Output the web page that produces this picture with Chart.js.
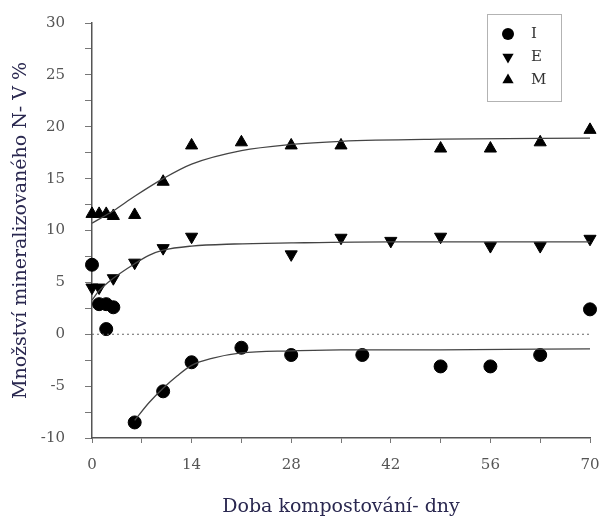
<!DOCTYPE html>
<html>
<head>
<meta charset="utf-8">
<script src="https://cdn.jsdelivr.net/npm/chart.js@4"></script>
<style>
  html, body { margin: 0; padding: 0; background: #fff; }
  #wrap { width: 606px; height: 522px; }
</style>
</head>
<body>
<div id="wrap"><canvas id="chart"></canvas></div>
<script>
// Measured points (day, value)
const iDays = [0, 1, 2, 2, 3, 6, 10, 14, 21, 28, 38, 49, 56, 63, 70];
const iVals = [6.7, 2.9, 2.9, 0.5, 2.6, -8.5, -5.5, -2.7, -1.3, -2.0, -2.0, -3.1, -3.1, -2.0, 2.4];

const eDays = [0, 1, 3, 6, 10, 14, 28, 35, 42, 49, 56, 63, 70];
const eVals = [4.5, 4.5, 5.4, 6.9, 8.3, 9.4, 7.7, 9.3, 9.0, 9.4, 8.5, 8.5, 9.2];

const mDays = [0, 1, 2, 3, 6, 10, 14, 21, 28, 35, 49, 56, 63, 70];
const mVals = [11.6, 11.6, 11.6, 11.4, 11.5, 14.7, 18.2, 18.5, 18.2, 18.2, 17.9, 17.9, 18.5, 19.7];

// Fitted curves
const iFitDays = [6, 8, 10, 12, 14, 17, 21, 28, 35, 49, 70];
const iFitVals = [-8.3, -6.6, -5.2, -4.0, -3.0, -2.3, -1.8, -1.6, -1.5, -1.5, -1.4];

const eFitDays = [0, 1, 3, 6, 8, 10, 14, 20, 28, 42, 70];
const eFitVals = [3.3, 4.2, 5.4, 6.8, 7.6, 8.1, 8.5, 8.7, 8.8, 8.9, 8.9];

const mFitDays = [0, 3, 6, 10, 14, 21, 28, 35, 49, 70];
const mFitVals = [10.7, 11.9, 13.3, 15.0, 16.4, 17.7, 18.3, 18.6, 18.8, 18.9];

const xTicks = [0, 14, 28, 42, 56, 70];
const yTicks = [-10, -5, 0, 5, 10, 15, 20, 25, 30];

const legendNames = ["I", "E", "M"];

function pts(xs, ys) {
    return xs.map((x, i) => ({ x: x, y: ys[i] }));
}

const serif = "'DejaVu Serif', 'Liberation Serif', serif";

// axes keep a fixed size; label overhang handled by layout padding
function fixAxis(axis, size) {
    if (axis.isHorizontal()) axis.height = size; else axis.width = size;
    axis.paddingTop = 0;
    axis.paddingBottom = 0;
    axis.paddingLeft = 0;
    axis.paddingRight = 0;
}

// legend box drawn inside the plot, top right
const legendBox = {
    id: "legendBox",
    afterDraw(chart) {
        const ctx = chart.ctx;
        const bx = 487, by = 14, bw = 74, bh = 87;
        ctx.save();
        ctx.strokeStyle = "#666";
        ctx.lineWidth = 1;
        ctx.setLineDash([1, 1]);
        ctx.strokeRect(bx + 0.5, by + 0.5, bw, bh);
        ctx.setLineDash([]);
        const styles = [
            { pointStyle: "circle", radius: 6, rotation: 0 },
            { pointStyle: "triangle", radius: 6.5, rotation: 180 },
            { pointStyle: "triangle", radius: 6.5, rotation: 0 }
        ];
        ctx.fillStyle = "#000";
        ctx.strokeStyle = "#000";
        ctx.font = "15px " + serif;
        ctx.textBaseline = "middle";
        legendNames.forEach((name, i) => {
            const cy = by + 20 + i * 23;
            Chart.helpers.drawPoint(ctx, styles[i], bx + 21, cy);
            ctx.fillStyle = "#333";
            ctx.fillText(name, bx + 44, cy);
            ctx.fillStyle = "#000";
        });
        ctx.restore();
    }
};

document.addEventListener("DOMContentLoaded", () => {
    const ctx = document.getElementById("chart").getContext("2d");

    const markerBase = {
        showLine: false,
        backgroundColor: "#000",
        borderColor: "#000",
        borderWidth: 1,
        clip: false
    };
    const fitBase = {
        showLine: true,
        pointRadius: 0,
        borderColor: "#444",
        borderWidth: 1.3,
        cubicInterpolationMode: "monotone",
        fill: false
    };

    new Chart(ctx, {
        type: "scatter",
        data: {
            datasets: [
                { ...fitBase, label: "zero", data: pts([0, 70], [0, 0]), borderColor: "#666", borderWidth: 1, borderDash: [2, 3] },
                { ...fitBase, label: "I fit", data: pts(iFitDays, iFitVals) },
                { ...fitBase, label: "E fit", data: pts(eFitDays, eFitVals) },
                { ...fitBase, label: "M fit", data: pts(mFitDays, mFitVals) },
                { ...markerBase, label: "I", data: pts(iDays, iVals), pointStyle: "circle", pointRadius: 6.5 },
                { ...markerBase, label: "E", data: pts(eDays, eVals), pointStyle: "triangle", pointRadius: 7, rotation: 180 },
                { ...markerBase, label: "M", data: pts(mDays, mVals), pointStyle: "triangle", pointRadius: 7 }
            ]
        },
        options: {
            responsive: true,
            maintainAspectRatio: false,
            animation: false,
            layout: { padding: { top: 23, right: 16, left: 0, bottom: 0 } },
            plugins: {
                legend: { display: false },
                tooltip: { enabled: false }
            },
            scales: {
                x: {
                    type: "linear",
                    min: 0,
                    max: 70,
                    afterBuildTicks: axis => {
                        axis.ticks = [];
                        for (let d = 0; d <= 70; d += 7) axis.ticks.push({ value: d });
                    },
                    afterFit: axis => fixAxis(axis, 84),
                    border: { display: true, color: "#555", width: 1.5 },
                    grid: { drawOnChartArea: false, drawTicks: true, tickLength: 5, color: "#777" },
                    ticks: {
                        color: "#555",
                        font: { family: serif, size: 15 },
                        padding: 13,
                        maxRotation: 0,
                        autoSkip: false,
                        callback: v => xTicks.includes(v) ? String(v) : ""
                    },
                    title: {
                        display: true,
                        text: "Doba kompostování- dny",
                        color: "#2a2850",
                        font: { family: serif, size: 19 },
                        padding: { top: 14 }
                    }
                },
                y: {
                    min: -10,
                    max: 30,
                    afterBuildTicks: axis => {
                        axis.ticks = [];
                        for (let v = -10; v <= 30; v += 2.5) axis.ticks.push({ value: v });
                    },
                    afterFit: axis => fixAxis(axis, 92),
                    border: { display: true, color: "#555", width: 1.5 },
                    grid: { drawOnChartArea: false, drawTicks: true, tickLength: 7, color: "#777" },
                    ticks: {
                        color: "#555",
                        font: { family: serif, size: 15 },
                        padding: 20,
                        autoSkip: false,
                        callback: v => yTicks.includes(v) ? String(v) : ""
                    },
                    title: {
                        display: true,
                        text: "Množství mineralizovaného N- V %",
                        color: "#2a2850",
                        font: { family: serif, size: 19 },
                        padding: { top: 10, bottom: 4 }
                    }
                }
            }
        },
        plugins: [legendBox]
    });
});
</script>
</body>
</html>
